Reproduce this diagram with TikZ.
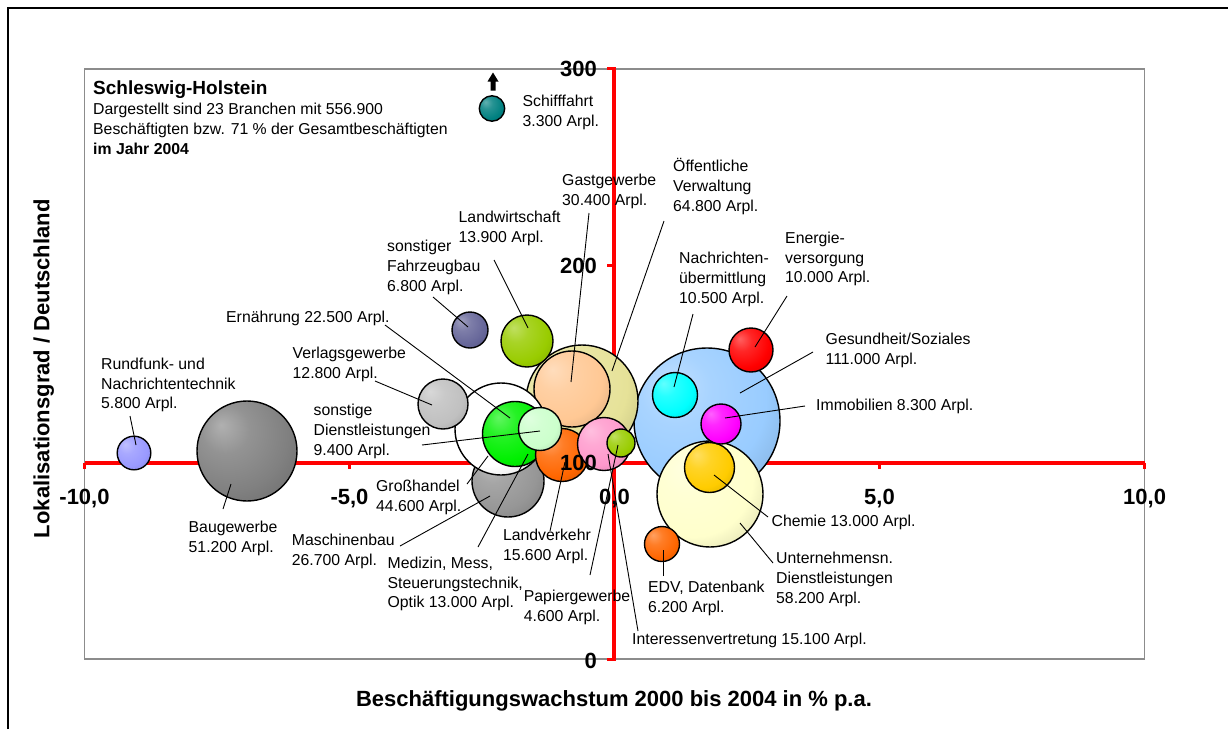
\documentclass[tikz,border=0pt]{standalone}
\usepackage{fontspec}
\setmainfont{Liberation Sans}
\usetikzlibrary{arrows.meta}
\definecolor{cRund}{HTML}{9999FF}
\definecolor{cBau}{HTML}{808080}
\definecolor{cVerl}{HTML}{C0C0C0}
\definecolor{cGroh}{HTML}{FFFFFF}
\definecolor{cMasch}{HTML}{969696}
\definecolor{cErn}{HTML}{00F000}
\definecolor{cSDL}{HTML}{CCFFCC}
\definecolor{cLandv}{HTML}{FF6600}
\definecolor{cInt}{HTML}{FF99CC}
\definecolor{cPap}{HTML}{99CC00}
\definecolor{cGast}{HTML}{FFC894}
\definecolor{cOeff}{HTML}{E6E298}
\definecolor{cLandw}{HTML}{99CC00}
\definecolor{cFahr}{HTML}{666699}
\definecolor{cSchiff}{HTML}{008080}
\definecolor{cGes}{HTML}{99CCFF}
\definecolor{cNach}{HTML}{00FFFF}
\definecolor{cEn}{HTML}{FF0000}
\definecolor{cImm}{HTML}{FF00FF}
\definecolor{cUnt}{HTML}{FFFFCC}
\definecolor{cChem}{HTML}{FFCC00}
\definecolor{cEDV}{HTML}{FF6600}
\definecolor{axred}{HTML}{FF0000}
\definecolor{plotgray}{HTML}{8C8C8C}
\colorlet{bubcol}{white}
\pgfdeclareradialshading[bubcol]{bubble}{\pgfpoint{-13bp}{13bp}}{%
  color(0bp)=(bubcol!62!white);
  color(12bp)=(bubcol!85!white);
  color(28bp)=(bubcol);
  color(50bp)=(bubcol!74!black);
  color(70bp)=(bubcol!74!black)}
\tikzset{
  bub/.style={circle, draw=black, line width=1.4pt, inner sep=0pt, minimum size=#1},
  bc/.style={/utils/exec={\colorlet{bubcol}{#1}}, shade, shading=bubble},
  leader/.style={draw=black, line width=0.9pt},
  lbl/.style={anchor=north west, inner sep=0pt, align=left, font=\fontsize{15.8}{19.8}\selectfont},
  ticklbl/.style={inner sep=0pt, font=\bfseries\fontsize{22}{24}\selectfont},
  axisline/.style={draw=axred, line width=4pt},
  tickmark/.style={draw=axred, line width=3pt},
}
\begin{document}
\begin{tikzpicture}[x=1pt, y=-1pt]
\useasboundingbox (0,0) rectangle (1228,729);
\fill[white] (0,0) rectangle (1228,729);
% outer frame (only top and left visible)
\coordinate (fbl) at (7.5,729);
\coordinate (ftl) at (7.5,7.5);
\coordinate (ftr) at (1228,7.5);
\draw[line width=2pt] (fbl) -- (ftl) -- (ftr);
% plot area
\node[draw=plotgray, line width=1.5pt, minimum width=1060pt, minimum height=590pt, inner sep=0pt] (plot) at (614.5,364) {};
% axes
\coordinate (xl) at (84.5,462.7);
\coordinate (xr) at (1144.6,462.7);
\coordinate (yt) at (613.5,67);
\coordinate (yb) at (613.5,661);
\draw[axisline] (xl) -- (xr);
\draw[axisline] (yt) -- (yb);
\foreach \x in {84.5,349.5,614.5,879.5,1144.6}{
  \draw[tickmark] (\x,462.7) -- (\x,469);
}
\foreach \y in {68.5,265.7,462.7,659.5}{
  \draw[tickmark] (613.5,\y) -- (607,\y);
}
% bubbles (back to front)
\node[bub=146pt, bc=cGes] (ges) at (707,421) {};
\node[bub=106pt, bc=cUnt] (unt) at (710,494) {};
\node[bub=50pt, bc=cChem] (chem) at (709.5,467.5) {};
\node[bub=45pt, bc=cNach] (nach) at (675,395) {};
\node[bub=40pt, bc=cImm] (imm) at (721,424) {};
\node[bub=44pt, bc=cEn] (en) at (751,350) {};
\node[bub=35pt, bc=cEDV] (edv) at (662,544) {};
\node[bub=100pt, bc=cBau] (bau) at (247,451) {};
\node[bub=33.6pt, bc=cRund] (rund) at (134,453) {};
\node[bub=112pt, bc=cOeff] (oeff) at (582,401) {};
\node[bub=76pt, bc=cGast] (gast) at (572,389) {};
\node[bub=52pt, bc=cLandw] (landw) at (527,341) {};
\node[bub=36pt, bc=cFahr] (fahr) at (470,330) {};
\node[bub=72pt, bc=cMasch] (masch) at (508,481) {};
\node[bub=92pt, bc=cGroh] (groh) at (501,429) {};
\node[bub=50pt, bc=cVerl] (verl) at (443,404) {};
\node[bub=65pt, bc=cErn] (ern) at (515,434) {};
\node[bub=53pt, bc=cLandv] (landv) at (562,455) {};
\node[bub=43pt, bc=cSDL] (sdl) at (540,429) {};
\node[bub=53pt, bc=cInt] (int) at (604,444) {};
\node[bub=28pt, bc=cPap] (pap) at (621,443) {};
\node[bub=25.4pt, bc=cSchiff] (schiff) at (492,108.5) {};
% arrow above Schifffahrt
\fill (493,72.5) -- (498.5,81.5) -- (495.5,81.5) -- (495.5,90.5) -- (490.5,90.5) -- (490.5,81.5) -- (487.5,81.5) -- cycle;
% leader end points
\coordinate (gast-a) at (589,213);   \coordinate (gast-b) at (571,382);
\coordinate (oeff-a) at (664,221);   \coordinate (oeff-b) at (612,371);
\coordinate (landw-a) at (494,260);  \coordinate (landw-b) at (528,328);
\coordinate (fahr-a) at (433,297);   \coordinate (fahr-b) at (468,327);
\coordinate (ern-a) at (385,325);    \coordinate (ern-b) at (510,418);
\coordinate (verl-a) at (375,381);   \coordinate (verl-b) at (432,405);
\coordinate (rund-a) at (130,416);   \coordinate (rund-b) at (136,445);
\coordinate (sdl-a) at (422,445);    \coordinate (sdl-b) at (540,431);
\coordinate (bau-a) at (223,509);    \coordinate (bau-b) at (231,484);
\coordinate (groh-a) at (467,484);   \coordinate (groh-b) at (488,456);
\coordinate (masch-a) at (400,546);  \coordinate (masch-b) at (490,496);
\coordinate (med-a) at (478,547);    \coordinate (med-b) at (528,454);
\coordinate (landv-a) at (550,531);  \coordinate (landv-b) at (565,462);
\coordinate (pap-a) at (590,575);    \coordinate (pap-b) at (618,445);
\coordinate (int-a) at (638,631);    \coordinate (int-b) at (608,454);
\coordinate (edv-a) at (663,576);    \coordinate (edv-b) at (663,550);
\coordinate (unt-a) at (773,563);    \coordinate (unt-b) at (740,523);
\coordinate (chem-a) at (768,517);   \coordinate (chem-b) at (714,475);
\coordinate (imm-a) at (805,406);    \coordinate (imm-b) at (725,418);
\coordinate (ges-a) at (813,352);    \coordinate (ges-b) at (740,393);
\coordinate (en-a) at (787,296);     \coordinate (en-b) at (755,347);
\coordinate (nach-a) at (693,314);   \coordinate (nach-b) at (674,387);
\foreach \n in {gast,oeff,landw,fahr,ern,verl,rund,sdl,bau,groh,masch,med,landv,pap,int,edv,unt,chem,imm,ges,en,nach}{
  \draw[leader] (\n-a) -- (\n-b);
}
% labels
\node[lbl] (l-schiff) at (522.5,95) {Schifffahrt\\3.300 Arpl.};
\node[lbl] (l-gast) at (562,174.3) {Gastgewerbe\\30.400 Arpl.};
\node[lbl] (l-oeff) at (673,158) {Öffentliche\\Verwaltung\\64.800 Arpl.};
\node[lbl] (l-landw) at (458.5,211) {Landwirtschaft\\13.900 Arpl.};
\node[lbl] (l-fahr) at (387,240.3) {sonstiger\\Fahrzeugbau\\6.800 Arpl.};
\node[lbl] (l-ern) at (226,311) {Ernährung 22.500 Arpl.};
\node[lbl] (l-verl) at (292.5,347) {Verlagsgewerbe\\12.800 Arpl.};
\node[lbl] (l-rund) at (101,357.6) {Rundfunk- und\\Nachrichtentechnik\\5.800 Arpl.};
\node[lbl] (l-sdl) at (313.4,404.3) {sonstige\\Dienstleistungen\\9.400 Arpl.};
\node[lbl] (l-bau) at (188.5,521) {Baugewerbe\\51.200 Arpl.};
\node[lbl] (l-groh) at (376,479.6) {Großhandel\\44.600 Arpl.};
\node[lbl] (l-masch) at (291.7,534.3) {Maschinenbau\\26.700 Arpl.};
\node[lbl] (l-med) at (387.4,556.6) {Medizin, Mess,\\Steuerungstechnik,\\Optik 13.000 Arpl.};
\node[lbl] (l-landv) at (502.8,528.6) {Landverkehr\\15.600 Arpl.};
\node[lbl] (l-pap) at (523.7,590) {Papiergewerbe\\4.600 Arpl.};
\node[lbl] (l-int) at (632,633.3) {Interessenvertretung 15.100 Arpl.};
\node[lbl] (l-edv) at (648,581) {EDV, Datenbank\\6.200 Arpl.};
\node[lbl] (l-unt) at (776,552) {Unternehmensn.\\Dienstleistungen\\58.200 Arpl.};
\node[lbl] (l-chem) at (771.4,515) {Chemie 13.000 Arpl.};
\node[lbl] (l-imm) at (816,399.3) {Immobilien 8.300 Arpl.};
\node[lbl] (l-ges) at (825.5,333.3) {Gesundheit/Soziales\\111.000 Arpl.};
\node[lbl] (l-en) at (785,231.6) {Energie-\\versorgung\\10.000 Arpl.};
\node[lbl] (l-nach) at (679,252) {Nachrichten-\\übermittlung\\10.500 Arpl.};
% title block
\node[anchor=north west, inner sep=0pt, font=\bfseries\fontsize{19}{22}\selectfont] (ttl) at (93,80.5) {Schleswig-Holstein};
\node[lbl] (sub) at (93,103) {Dargestellt sind 23 Branchen mit 556.900\\Beschäftigten bzw. 71 \% der Gesamtbeschäftigten\\\textbf{im Jahr 2004}};
% tick labels
\node[ticklbl, anchor=base] (tx1) at (84.5,504.6) {-10,0};
\node[ticklbl, anchor=base] (tx2) at (349.5,504.6) {-5,0};
\node[ticklbl, anchor=base] (tx3) at (614.5,504.6) {0,0};
\node[ticklbl, anchor=base] (tx4) at (879.5,504.6) {5,0};
\node[ticklbl, anchor=base] (tx5) at (1144.6,504.6) {10,0};
\node[ticklbl, anchor=base east] (ty1) at (597,76.9) {300};
\node[ticklbl, anchor=base east] (ty2) at (597,273.6) {200};
\node[ticklbl, anchor=base east] (ty3) at (597,470) {100};
\node[ticklbl, anchor=base east] (ty4) at (597,668) {0};
% axis titles
\node[ticklbl, anchor=base] (xtitle) at (614,706.2) {Beschäftigungswachstum 2000 bis 2004 in \% p.a.};
\node[ticklbl, anchor=base, rotate=90] (ytitle) at (49.4,368.7) {Lokalisationsgrad / Deutschland};
\end{tikzpicture}
\end{document}
